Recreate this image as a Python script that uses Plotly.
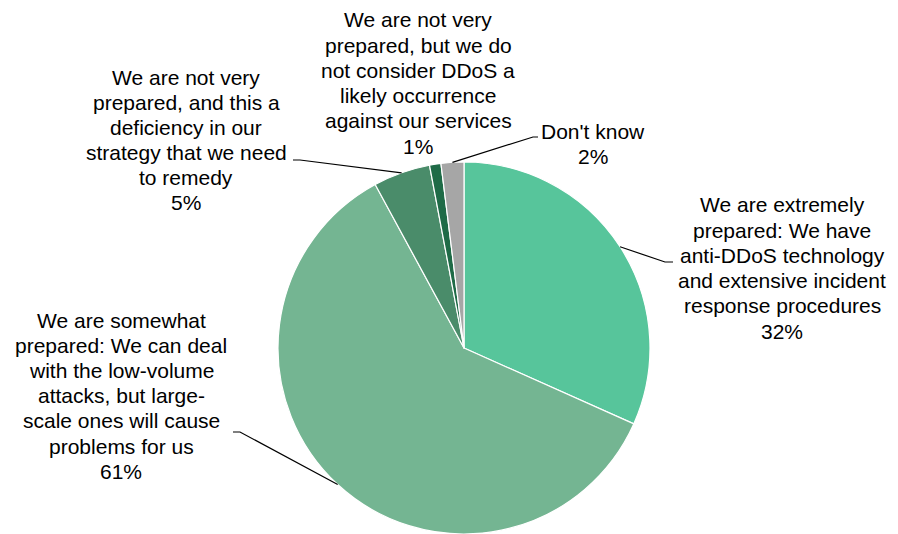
import math
import plotly.graph_objects as go

# Survey responses: DDoS preparedness
names = [
    "We are extremely prepared: We have anti-DDoS technology and extensive incident response procedures",
    "We are somewhat prepared: We can deal with the low-volume attacks, but large-scale ones will cause problems for us",
    "We are not very prepared, and this a deficiency in our strategy that we need to remedy",
    "We are not very prepared, but we do not consider DDoS a likely occurrence against our services",
    "Don't know",
]
label_lines = [
    ["We are extremely", "prepared: We have", "anti-DDoS technology",
     "and extensive incident", "response procedures"],
    ["We are somewhat", "prepared: We can deal", "with the low-volume",
     "attacks, but large-", "scale ones will cause", "problems for us"],
    ["We are not very", "prepared, and this a", "deficiency in our",
     "strategy that we need", "to remedy"],
    ["We are not very", "prepared, but we do", "not consider DDoS a",
     "likely occurrence", "against our services"],
    ["Don't know"],
]
values = [32, 61, 5, 1, 2]
colors = ["#57C59B", "#74B592", "#4A8C6A", "#1F6B47", "#A6A6A6"]

W, H = 898, 534
CX, CY, R = 464, 348, 186  # pie centre and radius in pixels
LINE_H = 25.2              # label line pitch in pixels


def px(x, y):
    """Pixel position -> paper coordinates."""
    return x / W, 1 - y / H


fig = go.Figure(go.Pie(
    labels=names,
    values=values,
    sort=False,
    direction="clockwise",
    rotation=0,
    marker=dict(colors=colors, line=dict(color="white", width=1.2)),
    textinfo="none",
    hoverinfo="label+percent",
    domain=dict(x=[(CX - R) / W, (CX + R) / W], y=[0, 2 * R / H]),
    showlegend=False,
))

# label blocks: centre x and first-line centre y (pixels), plus leader-line elbows
label_pos = [(782, 205), (121, 320), (186, 77), (418, 20), (593, 131)]
elbows = [[(665, 262), (673, 262)],
          [(240, 432), (233, 432)],
          [(300, 160), (293, 160)],
          None,
          [(533, 137), (538, 137)]]

total = sum(values)
cum = 0
font = dict(family="Liberation Sans, Arial, sans-serif", size=21, color="#000000")
for i, v in enumerate(values):
    mid = (cum + v / 2) / total * 2 * math.pi
    cum += v
    lines = label_lines[i] + [f"{v}%"]
    lx, ly = label_pos[i]
    for k, line in enumerate(lines):
        ax, ay = px(lx, ly + k * LINE_H)
        fig.add_annotation(text=line, x=ax, y=ay, xref="paper", yref="paper",
                           xanchor="center", yanchor="middle", showarrow=False,
                           font=font)
    if elbows[i]:
        ex, ey = CX + R * math.sin(mid), CY - R * math.cos(mid)
        pts = [(ex, ey)] + elbows[i]
        path = "M " + " L ".join(f"{px(x, y)[0]},{px(x, y)[1]}" for x, y in pts)
        fig.add_shape(type="path", path=path, xref="paper", yref="paper",
                      line=dict(color="#000000", width=1.2))

fig.update_layout(width=W, height=H, margin=dict(l=0, r=0, t=0, b=0),
                  paper_bgcolor="white", plot_bgcolor="white")
fig.write_html("out.html")
